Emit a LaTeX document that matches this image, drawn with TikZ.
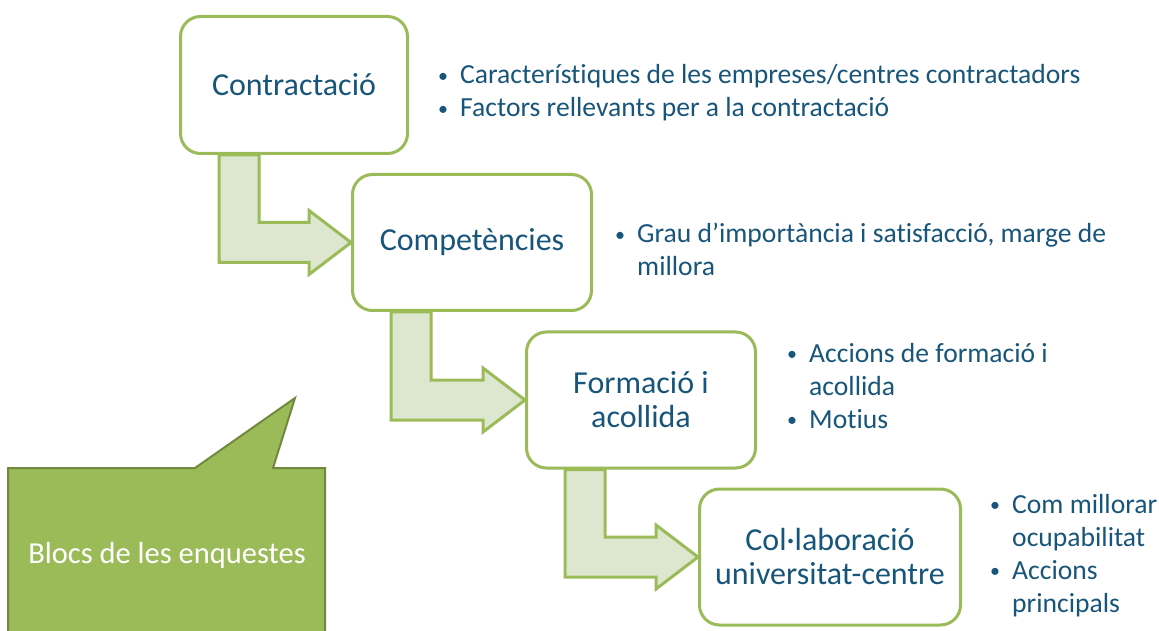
\documentclass[tikz,border=0pt]{standalone}
\usepackage{fontspec}
\setmainfont{Carlito}[Ligatures=NoCommon]
\usepackage{tikz}
\usetikzlibrary{calc,positioning}

\definecolor{olivegreen}{RGB}{155,187,89}
\definecolor{olivedark}{RGB}{113,137,63}
\definecolor{arrowfill}{RGB}{221,231,207}
\definecolor{blocktext}{RGB}{24,85,122}

\tikzset{
  stagebox/.style={draw=olivegreen,line width=3pt,rounded corners=20pt,fill=white,
    text=blocktext,align=center,font=\fontsize{32}{34}\selectfont},
  bendarrow/.style={draw=olivegreen,fill=arrowfill,line width=3pt,line join=miter},
  notes/.style={text=blocktext,anchor=base west,inner sep=0pt,
    font=\fontsize{27.6}{33}\selectfont},
}
\newcommand{\blt}{\makebox[20pt][l]{\hspace{-2pt}{\fontsize{20}{20}\selectfont\raisebox{1.5pt}{\textbullet}}}}

\begin{document}
\begin{tikzpicture}[x=1pt,y=1pt]
  \useasboundingbox (0,0) rectangle (1159,630);

  % Stage boxes
  \node[stagebox,minimum width=227pt,minimum height=137pt] (contr) at (294,545) {Contractació};
  \node[stagebox,minimum width=239pt,minimum height=136pt] (comp) at (472,387.5) {Competències};
  \node[stagebox,minimum width=229pt,minimum height=136pt] (form) at (641,230) {Formació i\\acollida};
  \node[stagebox,minimum width=261pt,minimum height=136pt] (colab) at (830,73) {Col·laboració\\universitat-centre};

  % Bent arrows between stages
  \foreach \a/\b in {contr/comp,comp/form,form/colab} {
    \draw[bendarrow] ($(\a.south west)+(40,0)$) |- ($(\b.west)+(-42,-20)$) -- ++(0,-12)
      -- (\b.west) -- ($(\b.west)+(-42,32)$) -- ++(0,-12) -| ($(\a.south west)+(80,0)$) -- cycle;
  }

  % Bullet notes
  \node[notes] (ncontr) at (440,546) {\begin{tabular}[t]{@{}l@{}}
    \blt Característiques de les empreses/centres contractadors\\
    \blt Factors rellevants per a la contractació\end{tabular}};
  \node[notes] (ncomp) at (617,387) {\begin{tabular}[t]{@{}l@{}}
    \blt Grau d’importància i satisfacció, marge de\\
    \hspace{20pt}millora\end{tabular}};
  \node[notes] (nform) at (789,268) {\begin{tabular}[t]{@{}l@{}}
    \blt Accions de formació i\\
    \hspace{20pt}acollida\\
    \blt Motius\end{tabular}};
  \node[notes] (ncolab) at (992,117) {\begin{tabular}[t]{@{}l@{}}
    \blt Com millorar\\
    \hspace{20pt}ocupabilitat\\
    \blt Accions\\
    \hspace{20pt}principals\end{tabular}};

  % Callout
  \draw[fill=olivegreen,draw=olivedark,line width=2pt,line join=miter]
    (8,-10) -- (8,162) -- (195,162) -- (295,232) -- (273,162) -- (325,162) -- (325,-10) -- cycle;
  \node[text=white,font=\fontsize{30.5}{34}\selectfont] (blocs) at (167,75) {Blocs de les enquestes};
\end{tikzpicture}
\end{document}
